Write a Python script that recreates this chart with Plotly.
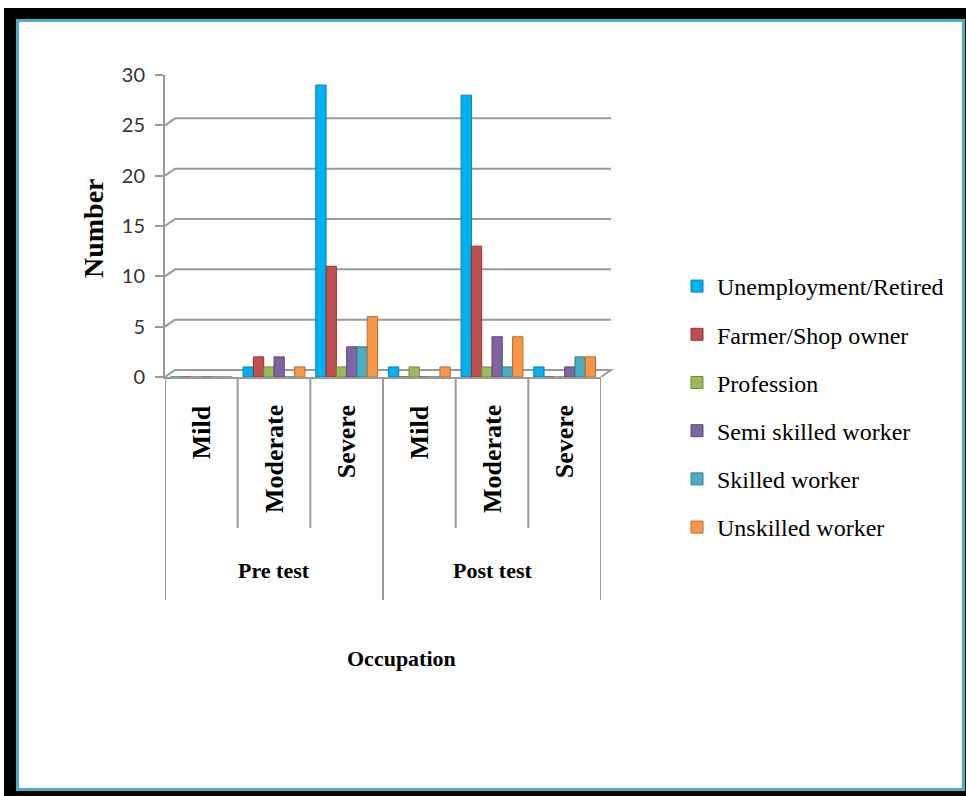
import plotly.graph_objects as go

# Severity levels for each test phase
phases = ["Pre test", "Post test"]
levels = ["Mild", "Moderate", "Severe"]
categories = [f"{p} - {l}" for p in phases for l in levels]

occupations = [
    "Unemployment/Retired",
    "Farmer/Shop owner",
    "Profession",
    "Semi skilled worker",
    "Skilled worker",
    "Unskilled worker",
]

# Counts per category (Pre Mild, Pre Moderate, Pre Severe, Post Mild, Post Moderate, Post Severe)
unemployment_retired = [0, 1, 29, 1, 28, 1]
farmer_shop_owner = [0, 2, 11, 0, 13, 0]
profession = [0, 1, 1, 1, 1, 0]
semi_skilled_worker = [0, 2, 3, 0, 4, 1]
skilled_worker = [0, 0, 3, 0, 1, 2]
unskilled_worker = [0, 1, 6, 1, 4, 2]

series = [unemployment_retired, farmer_shop_owner, profession,
          semi_skilled_worker, skilled_worker, unskilled_worker]
colors = ["#00B0F0", "#C0504D", "#9BBB59", "#8064A2", "#4BACC6", "#F79646"]
edges = ["#0083B3", "#8C3532", "#71893F", "#5C4876", "#327E92", "#B86D2E"]

y_ticks = [0, 5, 10, 15, 20, 25, 30]

W, H = 966, 796
ML, MR, MT, MB = 165, 365, 75, 419
PW, PH = W - ML - MR, H - MT - MB


def px(x):
    return (x - ML) / PW


def py(y):
    return (H - MB - y) / PH


fig = go.Figure()
for name, vals, c, e in zip(occupations, series, colors, edges):
    fig.add_trace(go.Bar(
        x=categories, y=vals, name=name, legendgroup=name,
        marker=dict(color=c, line=dict(color=e, width=1)),
    ))

shapes = []
# page frame
shapes.append(dict(type="rect", xref="paper", yref="paper", layer="below",
                   x0=px(4), x1=px(990), y0=py(8), y1=py(820),
                   fillcolor="black", line=dict(width=0)))
shapes.append(dict(type="rect", xref="paper", yref="paper", layer="below",
                   x0=px(17.5), x1=px(963.5), y0=py(20.5), y1=py(789.5),
                   fillcolor="white", line=dict(color="#4BACC6", width=3)))

# back-wall gridlines with depth offset
dx = px(ML + 10)
dy = 7 / PH * 30
for v in y_ticks[1:]:
    shapes.append(dict(type="path", xref="paper", yref="y", layer="below",
                       path=f"M 0,{v} L {dx},{v + dy} L {1 + dx},{v + dy}",
                       line=dict(color="#9A9A9A", width=2)))
# floor
shapes.append(dict(type="path", xref="paper", yref="y", layer="below",
                   path=f"M 0,0 L {dx},{dy} L {1 + dx},{dy} L 1,0",
                   line=dict(color="#9A9A9A", width=2)))

# category dividers below the axis
for i in range(7):
    outer = i % 3 == 0
    shapes.append(dict(type="line", xref="x", yref="paper", layer="below",
                       x0=i - 0.5, x1=i - 0.5, y0=0,
                       y1=py(600) if outer else py(528),
                       line=dict(color="#9A9A9A", width=2)))

serif = "Liberation Serif, Times New Roman, serif"
annotations = []
for cat, lvl in zip(categories, levels * 2):
    annotations.append(dict(x=cat, xref="x", y=py(403), yref="paper",
                            text=lvl, showarrow=False, textangle=-90,
                            xanchor="center", yanchor="top",
                            font=dict(family=serif, size=26, color="black",
                                      weight="bold")))
for k, p in enumerate(phases):
    annotations.append(dict(x=3 * k + 1, xref="x", y=py(570), yref="paper",
                            text=p, showarrow=False,
                            xanchor="center", yanchor="middle",
                            font=dict(family=serif, size=22, color="black",
                                      weight="bold")))
annotations.append(dict(x=px(401), xref="paper", y=py(658), yref="paper",
                        text="Occupation", showarrow=False,
                        xanchor="center", yanchor="middle",
                        font=dict(family=serif, size=22, color="black",
                                  weight="bold")))
annotations.append(dict(x=px(93), xref="paper", y=py(228), yref="paper",
                        text="Number", showarrow=False, textangle=-90,
                        xanchor="center", yanchor="middle",
                        font=dict(family=serif, size=28, color="black",
                                  weight="bold")))

fig.update_layout(
    width=W, height=H,
    margin=dict(l=ML, r=MR, t=MT, b=MB),
    paper_bgcolor="white", plot_bgcolor="rgba(0,0,0,0)",
    barmode="group", bargap=0.15, bargroupgap=0,
    shapes=shapes, annotations=annotations,
    showlegend=True,
    legend=dict(x=px(677), xanchor="left", y=py(407), yanchor="middle",
                font=dict(family=serif, size=24, color="black"),
                tracegroupgap=14, bgcolor="rgba(0,0,0,0)"),
    xaxis=dict(type="category", showticklabels=False, showgrid=False,
               showline=True, linecolor="#9A9A9A", linewidth=2,
               range=[-0.5, 5.5], fixedrange=True),
    yaxis=dict(range=[0, 30], tickvals=y_ticks, showgrid=False,
               zeroline=False, showline=True, linecolor="#9A9A9A",
               linewidth=2, ticks="outside", ticklen=8, tickwidth=2,
               tickcolor="#9A9A9A", ticklabelstandoff=6,
               tickfont=dict(family="Lato, sans-serif", size=20,
                             color="#333333")),
)

fig.write_html("out.html")
